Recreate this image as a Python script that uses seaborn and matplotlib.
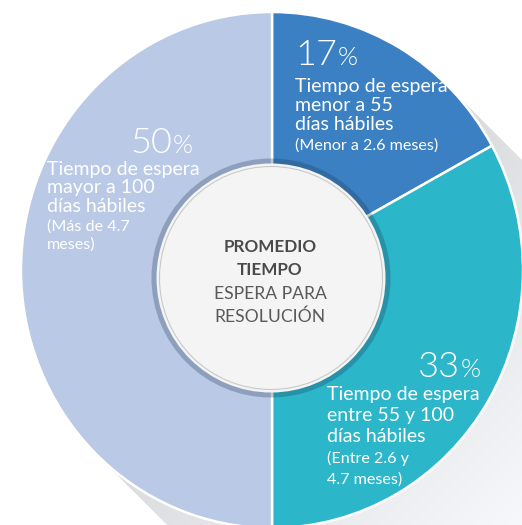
import numpy as np
import matplotlib
matplotlib.use("Agg")
import matplotlib.pyplot as plt
import seaborn as sns
from matplotlib.patches import Circle

# Shares of cases by waiting time (percent), clockwise from 12 o'clock
shares = [17, 33, 50]
titles = [
    ["Tiempo de espera", "menor a 55", "días hábiles"],
    ["Tiempo de espera", "entre 55 y 100", "días hábiles"],
    ["Tiempo de espera", "mayor a 100", "días hábiles"],
]
notes = [
    ["(Menor a 2.6 meses)"],
    ["(Entre 2.6 y", "4.7 meses)"],
    ["(Más de 4.7", "meses)"],
]
slice_colors = ["#3b80c2", "#2cb6ca", "#b9c9e6"]
center_bold = ["PROMEDIO", "TIEMPO"]
center_light = ["ESPERA PARA", "RESOLUCIÓN"]

sns.set_theme(style="white")
plt.rcParams["font.family"] = ["Lato", "DejaVu Sans"]

W, H = 522, 525
fig = plt.figure(figsize=(W / 100, H / 100), dpi=100)
fig.patch.set_facecolor("white")

# pie geometry in pixels (slightly taller than wide)
CX, CY, RX, RY = 272, 270, 251, 258
xlim = (-CX / RX, (W - CX) / RX)
ylim = ((CY - H) / RY, CY / RY)

ax = fig.add_axes([0, 0, 1, 1])

# long diagonal drop shadow behind the pie
yy, xx = np.mgrid[0:H, 0:W] + 0.5
t = ((xx - CX) + (yy - CY)) / np.sqrt(2)
s = ((xx - CX) - (yy - CY)) / np.sqrt(2)
R = np.sqrt((RX ** 2 + RY ** 2) / 2)
alpha = np.clip(R - np.abs(s) + 0.5, 0, 1) * (t >= 0)
g = np.clip(0.85 + 0.00035 * t, 0, 1)
rgba = np.zeros((H, W, 4))
rgba[..., 0] = g - 0.006
rgba[..., 1] = g - 0.002
rgba[..., 2] = np.clip(g + 0.008, 0, 1)
rgba[..., 3] = alpha
ax.imshow(rgba, extent=(xlim[0], xlim[1], ylim[0], ylim[1]), origin="upper",
          aspect="auto", interpolation="bilinear", zorder=0)

ax.pie(shares, colors=slice_colors, startangle=90, counterclock=False, radius=1,
       wedgeprops=dict(edgecolor="white", linewidth=1.8, zorder=2))
ax.set_aspect("auto")
ax.set_xlim(*xlim)
ax.set_ylim(*ylim)
ax.axis("off")

# overlay in pixel coordinates for the hub and labels
ov = fig.add_axes([0, 0, 1, 1], zorder=3)
ov.set_xlim(0, W)
ov.set_ylim(H, 0)
ov.axis("off")

HX, HY = 271, 278
ov.add_patch(Circle((HX, HY), 119.5, facecolor="#1d3350", alpha=0.28, edgecolor="none"))
ov.add_patch(Circle((HX, HY), 114.5, facecolor="#f3f4f3", edgecolor="none"))
ov.add_patch(Circle((HX, HY), 111.5, facecolor="none", edgecolor="#c8caca", linewidth=0.8))

for i, line in enumerate(center_bold):
    ov.text(270, 252 + 23 * i, line, ha="center", va="baseline", fontsize=12.3,
            fontweight="bold", color="#4a4a4a")
for i, line in enumerate(center_light):
    ov.text(270, 299 + 23 * i, line, ha="center", va="baseline", fontsize=12.6,
            fontweight="normal", color="#5a5a5a")

fig.canvas.draw()
renderer = fig.canvas.get_renderer()


def text_width(txt):
    bb = txt.get_window_extent(renderer=renderer)
    return bb.width


# label blocks: (text left x, big number x, big number alignment,
#                big baseline, first title baseline, title step, first note baseline, note step)
blocks = [
    (295, 295, "left", 65, 92, 19.2, 149.5, 19),
    (327, 481, "right", 377, 400, 21, 463, 20.5),
    (47, 193, "right", 153, 174.5, 18.5, 230.5, 18),
]

NUM_SIZE, PCT_SIZE, TITLE_SIZE, NOTE_SIZE = 26, 18.5, 14.0, 11.6
NUM_WEIGHT = 300
GAP = 1

for k, (tx, nx, align, yb, yt, dt, yn, dn) in enumerate(blocks):
    num = f"{shares[k]}"
    if align == "left":
        tn = ov.text(nx, yb, num, ha="left", va="baseline", fontsize=NUM_SIZE,
                     fontweight=NUM_WEIGHT, color="white")
        fig.canvas.draw()
        wn = text_width(tn)
        ov.text(nx + wn + GAP, yb, "%", ha="left", va="baseline", fontsize=PCT_SIZE,
                fontweight=NUM_WEIGHT, color="white")
    else:
        tp = ov.text(nx, yb, "%", ha="right", va="baseline", fontsize=PCT_SIZE,
                     fontweight=NUM_WEIGHT, color="white")
        fig.canvas.draw()
        wp = text_width(tp)
        ov.text(nx - wp - GAP, yb, num, ha="right", va="baseline", fontsize=NUM_SIZE,
                fontweight=NUM_WEIGHT, color="white")
    for j, line in enumerate(titles[k]):
        ov.text(tx, yt + dt * j, line, ha="left", va="baseline",
                fontsize=TITLE_SIZE, color="white")
    for j, line in enumerate(notes[k]):
        ov.text(tx, yn + dn * j, line, ha="left", va="baseline",
                fontsize=NOTE_SIZE, color="white")

fig.savefig("out.png", dpi=100, facecolor="white")
